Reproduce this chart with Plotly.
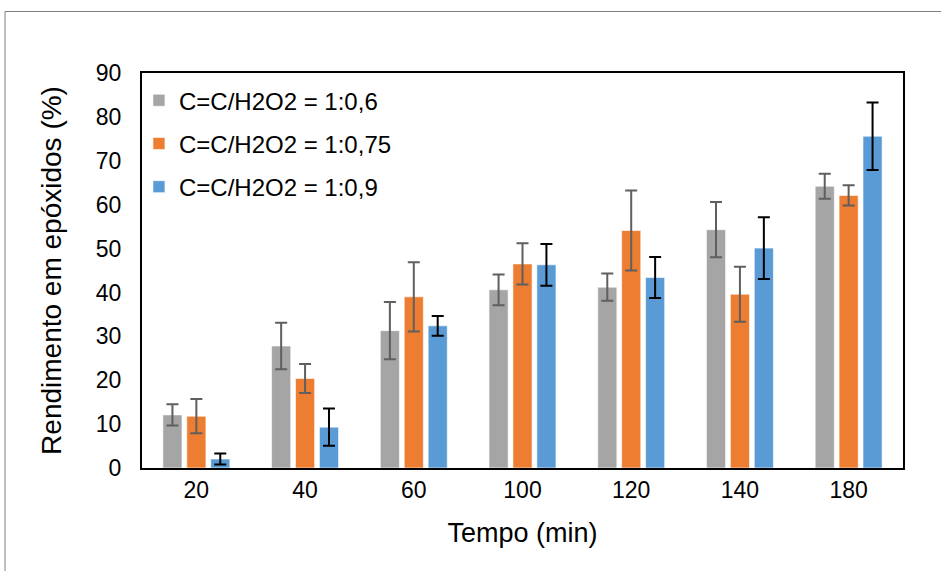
import plotly.graph_objects as go

categories = ["20", "40", "60", "100", "120", "140", "180"]
series_names = ["C=C/H2O2 = 1:0,6", "C=C/H2O2 = 1:0,75", "C=C/H2O2 = 1:0,9"]
vals_06 = [12.1, 27.8, 31.3, 40.6, 41.2, 54.3, 64.2]
err_06 = [2.4, 5.3, 6.5, 3.5, 3.1, 6.3, 2.85]
vals_075 = [11.8, 20.4, 39.0, 46.5, 54.1, 39.6, 62.1]
err_075 = [3.9, 3.3, 7.9, 4.7, 9.1, 6.25, 2.3]
vals_09 = [2.05, 9.3, 32.4, 46.3, 43.4, 50.1, 75.6]
err_09 = [1.25, 4.25, 2.25, 4.75, 4.65, 7.05, 7.7]

colors = ["#A5A5A5", "#ED7D31", "#5B9BD5"]
err_colors = ["#5f5f5f", "#5f5f5f", "#000000"]

fig = go.Figure()
for i, (name, v, e) in enumerate(zip(series_names, [vals_06, vals_075, vals_09], [err_06, err_075, err_09])):
    fig.add_trace(go.Bar(
        x=categories, y=v, name=name, legendgroup=str(i),
        marker=dict(color=colors[i], line=dict(color="rgba(255,255,255,0.6)", width=1)),
        error_y=dict(type="data", array=e, visible=True, color=err_colors[i], thickness=2, width=6),
    ))

W, H = 941, 571
L, R, T, B = 142, 903, 73, 468
pw, ph = R - L, B - T

fig.update_layout(
    width=W, height=H,
    margin=dict(l=L, r=W - R, t=T, b=H - B),
    paper_bgcolor="white", plot_bgcolor="white",
    barmode="group", bargap=0.34, bargroupgap=0.2,
    font=dict(family="Liberation Sans, Arial, sans-serif", size=23, color="#000000"),
    showlegend=True,
    legend=dict(x=-0.004, xanchor="left", y=0.987, yanchor="top",
                bgcolor="rgba(0,0,0,0)", font=dict(size=24),
                tracegroupgap=9, traceorder="grouped"),
    xaxis=dict(showline=True, linecolor="black", linewidth=2, mirror=True,
               ticks="", showgrid=False, tickfont=dict(size=23),
               title=dict(text="Tempo (min)", font=dict(size=27), standoff=22)),
    yaxis=dict(range=[0, 90], dtick=10, showline=True, linecolor="black", linewidth=2, mirror=True,
               ticks="", showgrid=False, tickfont=dict(size=23), zeroline=False,
               ticklabelstandoff=14,
               title=dict(text="Rendimento em epóxidos (%)", font=dict(size=28), standoff=26)),
    shapes=[dict(type="rect", xref="paper", yref="paper",
                 x0=(5.0 - L) / pw, x1=(960 - L) / pw,
                 y0=-(600 - B) / ph, y1=1 + (T - 11.5) / ph,
                 line=dict(color="#7f7f7f", width=1), layer="below")],
)

fig.write_html("out.html")
